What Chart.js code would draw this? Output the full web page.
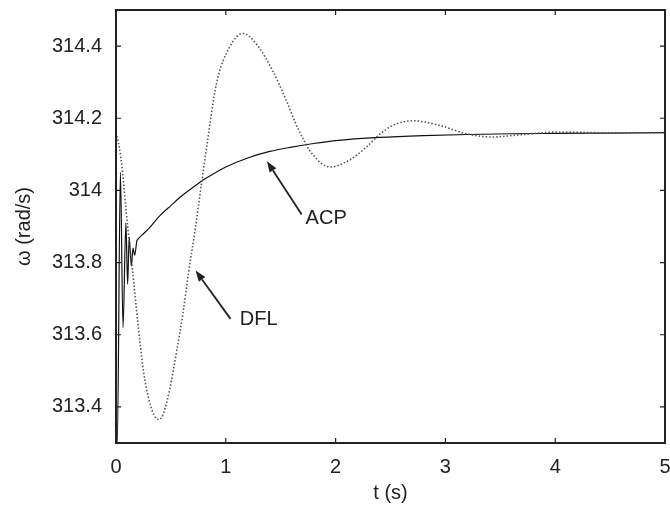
<!DOCTYPE html>
<html>
<head>
<meta charset="utf-8">
<script src="https://cdn.jsdelivr.net/npm/chart.js@4.4.1/dist/chart.umd.min.js"></script>
<style>
  html, body { margin: 0; padding: 0; background: #fff; }
  #wrap { width: 670px; height: 507px; }
</style>
</head>
<body>
<div id="wrap"><canvas id="speed"></canvas></div>
<script>
// ACP response (solid)
var tAcp = [0, 0.012, 0.04, 0.064, 0.09, 0.106, 0.12, 0.14, 0.155, 0.17, 0.19, 0.2, 0.25, 0.3, 0.4, 0.5,
            0.6, 0.7, 0.8, 0.9, 1.0, 1.2, 1.4, 1.6, 1.8, 2.0, 2.4, 2.8, 3.2, 3.6, 4.0, 4.5, 5.0];
var wAcp = [313.30, 313.30, 314.05, 313.62, 313.91, 313.74, 313.87, 313.79, 313.84, 313.82, 313.86, 313.865,
            313.88, 313.895, 313.93, 313.958, 313.985, 314.008, 314.03, 314.048, 314.065, 314.09, 314.108,
            314.12, 314.13, 314.138, 314.147, 314.152, 314.155, 314.157, 314.158, 314.159, 314.16];

// DFL response (dotted)
var tDfl = [0, 0.03, 0.06, 0.09, 0.12, 0.15, 0.2, 0.25, 0.3, 0.35, 0.39, 0.43, 0.49, 0.55, 0.61, 0.66,
            0.72, 0.77, 0.83, 0.915, 1.036, 1.157, 1.28, 1.43, 1.55, 1.66, 1.79, 1.95, 2.13, 2.28, 2.4,
            2.52, 2.7, 2.95, 3.19, 3.43, 3.64, 4.04, 4.4, 5.0];
var wDfl = [314.16, 314.12, 314.05, 313.95, 313.86, 313.78, 313.63, 313.50, 313.42, 313.375, 313.365,
            313.38, 313.45, 313.55, 313.66, 313.77, 313.89, 314.00, 314.13, 314.296, 314.398, 314.435,
            314.405, 314.33, 314.25, 314.17, 314.10, 314.065, 314.085, 314.12, 314.155, 314.18, 314.193,
            314.18, 314.157, 314.148, 314.153, 314.162, 314.16, 314.16];

var xTicks = [0, 1, 2, 3, 4, 5];
var yTicks = [313.4, 313.6, 313.8, 314.0, 314.2, 314.4];

// arrow labels, in data units
var notes = [
  { text: 'ACP', head: [1.375, 314.081], tail: [1.691, 313.933], at: [1.727, 313.922] },
  { text: 'DFL', head: [0.725, 313.778], tail: [1.043, 313.644], at: [1.127, 313.642] }
];

function pts(xs, ys) {
  return xs.map(function (x, i) { return { x: x, y: ys[i] }; });
}

var ink = '#222';
var font = { family: "'Liberation Sans', Arial, sans-serif", size: 20 };

// box frame, inward ticks on all four sides, arrows with labels
var frame = {
  id: 'frame',
  afterDraw: function (chart) {
    var ctx = chart.ctx, a = chart.chartArea;
    var xs = chart.scales.x, ys = chart.scales.y;
    var tl = 5;
    ctx.save();
    ctx.strokeStyle = ink;
    ctx.lineWidth = 1.2;
    ctx.beginPath();
    xTicks.forEach(function (v) {
      var px = xs.getPixelForValue(v);
      ctx.moveTo(px, a.bottom); ctx.lineTo(px, a.bottom - tl);
      ctx.moveTo(px, a.top); ctx.lineTo(px, a.top + tl);
    });
    yTicks.forEach(function (v) {
      var py = ys.getPixelForValue(v);
      ctx.moveTo(a.left, py); ctx.lineTo(a.left + tl, py);
      ctx.moveTo(a.right, py); ctx.lineTo(a.right - tl, py);
    });
    ctx.stroke();
    ctx.lineWidth = 2;
    ctx.strokeRect(a.left, a.top, a.right - a.left, a.bottom - a.top);

    notes.forEach(function (n) {
      var hx = xs.getPixelForValue(n.head[0]), hy = ys.getPixelForValue(n.head[1]);
      var tx = xs.getPixelForValue(n.tail[0]), ty = ys.getPixelForValue(n.tail[1]);
      var ang = Math.atan2(hy - ty, hx - tx);
      var len = 11, half = 4;
      var bx = hx - len * Math.cos(ang), by = hy - len * Math.sin(ang);
      ctx.lineWidth = 1.8;
      ctx.beginPath();
      ctx.moveTo(tx, ty); ctx.lineTo(bx, by);
      ctx.stroke();
      ctx.fillStyle = ink;
      ctx.beginPath();
      ctx.moveTo(hx, hy);
      ctx.lineTo(bx + half * Math.sin(ang), by - half * Math.cos(ang));
      ctx.lineTo(bx - half * Math.sin(ang), by + half * Math.cos(ang));
      ctx.closePath();
      ctx.fill();
      ctx.font = font.size + 'px ' + font.family;
      ctx.textAlign = 'left';
      ctx.textBaseline = 'middle';
      ctx.fillText(n.text, xs.getPixelForValue(n.at[0]), ys.getPixelForValue(n.at[1]));
    });
    ctx.restore();
  }
};

new Chart(document.getElementById('speed'), {
  type: 'line',
  data: {
    datasets: [
      {
        label: 'DFL',
        data: pts(tDfl, wDfl),
        borderColor: '#555',
        borderWidth: 1.6,
        borderDash: [1.5, 2],
        pointRadius: 0,
        cubicInterpolationMode: 'monotone',
        fill: false
      },
      {
        label: 'ACP',
        data: pts(tAcp, wAcp),
        borderColor: '#111',
        borderWidth: 1.2,
        pointRadius: 0,
        cubicInterpolationMode: 'monotone',
        fill: false
      }
    ]
  },
  options: {
    responsive: true,
    maintainAspectRatio: false,
    animation: false,
    layout: { padding: { left: 0, top: 10, right: 5, bottom: 0 } },
    plugins: { legend: { display: false }, tooltip: { enabled: false } },
    scales: {
      x: {
        type: 'linear',
        min: 0,
        max: 5,
        afterBuildTicks: function (s) { s.ticks = xTicks.map(function (v) { return { value: v }; }); },
        afterFit: function (s) { s.height = 64; s.paddingLeft = 0; s.paddingRight = 0; },
        grid: { display: false, drawTicks: false },
        border: { display: false },
        ticks: { color: ink, font: font, padding: 12, maxRotation: 0 },
        title: { display: true, text: 't (s)', color: ink, font: font, padding: { top: 0, bottom: 2 } }
      },
      y: {
        type: 'linear',
        min: 313.3,
        max: 314.5,
        afterBuildTicks: function (s) { s.ticks = yTicks.map(function (v) { return { value: v }; }); },
        afterFit: function (s) { s.width = 116; s.paddingTop = 0; s.paddingBottom = 0; },
        grid: { display: false, drawTicks: false },
        border: { display: false },
        ticks: {
          color: ink, font: font, padding: 14,
          callback: function (v) { return String(Math.round(v * 10) / 10); }
        },
        title: { display: true, text: 'ω (rad/s)', color: ink, font: font, padding: { top: 12, bottom: 0 } }
      }
    }
  },
  plugins: [frame]
});
</script>
</body>
</html>
